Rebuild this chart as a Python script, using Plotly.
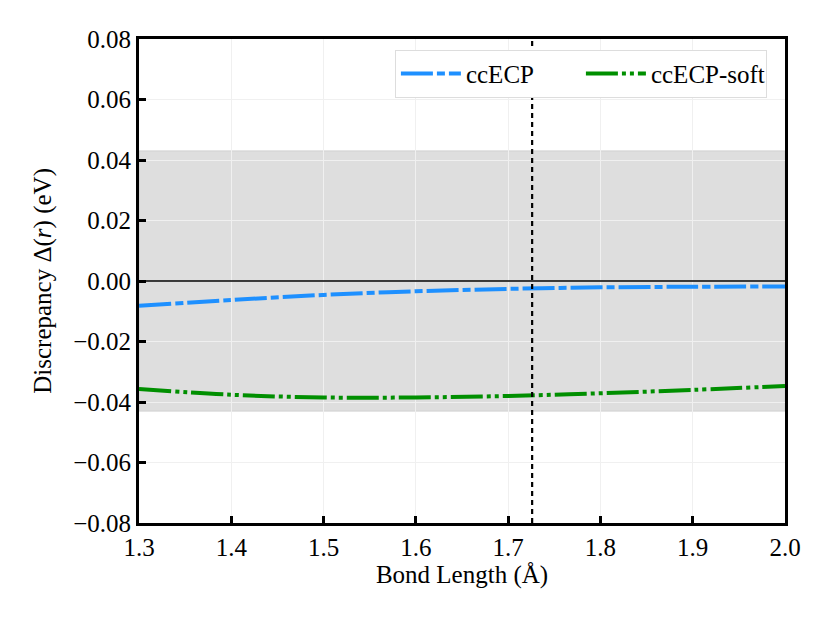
import plotly.graph_objects as go

# bond lengths (angstrom) and discrepancies (eV)
bond_length = [1.3, 1.4, 1.5, 1.6, 1.7, 1.8, 1.9, 2.0]
ccecp = [-0.0082, -0.0063, -0.0046, -0.0034, -0.0026, -0.0021, -0.0019, -0.0018]
ccecp_soft = [-0.0357, -0.0376, -0.0385, -0.0385, -0.0380, -0.0371, -0.0360, -0.0347]

eq_bond = 1.726      # vertical marker
band = 0.043         # shaded tolerance band

x_ticks = [1.3, 1.4, 1.5, 1.6, 1.7, 1.8, 1.9, 2.0]
y_ticks = [-0.08, -0.06, -0.04, -0.02, 0.0, 0.02, 0.04, 0.06, 0.08]

font = "Liberation Serif, Times New Roman, serif"
fsize = 25

fig = go.Figure()
fig.add_hrect(y0=-band, y1=band, fillcolor="#dedede",
              line=dict(color="#d0d0d0", width=1), layer="below")
fig.add_hline(y=0, line=dict(color="black", width=1.5))
fig.add_vline(x=eq_bond, line=dict(color="black", width=2.2, dash="5px,4px"))

fig.add_trace(go.Scatter(name="ccECP", x=bond_length, y=ccecp, mode="lines",
                         line=dict(color="#1e90ff", width=4, dash="32px,4px,8px,4px",
                                   shape="spline")))
fig.add_trace(go.Scatter(name="ccECP-soft", x=bond_length, y=ccecp_soft, mode="lines",
                         line=dict(color="#008f00", width=4,
                                   dash="32px,4px,4px,4px,4px,4px", shape="spline")))

axis_common = dict(showline=True, linecolor="black", linewidth=3, mirror=True,
                   ticks="inside", ticklen=7, tickwidth=2.5, tickcolor="black",
                   showgrid=True, gridcolor="#f0f0f0", gridwidth=1, zeroline=False,
                   tickfont=dict(size=fsize, color="black", family=font))

fig.update_xaxes(range=[1.3, 2.0], tickvals=x_ticks, tickformat=".1f",
                 title=dict(text="Bond Length (Å)", font=dict(size=fsize, family=font, color="black"),
                            standoff=6),
                 **axis_common)
fig.update_yaxes(range=[-0.08, 0.08], tickvals=y_ticks, tickformat=".2f", **axis_common)

# y title placed by hand: it sits closer to the tick labels than a standoff allows
fig.add_annotation(text="Discrepancy Δ(<i>r</i>) (eV)", textangle=-90,
                   xref="paper", yref="paper", x=-0.149, y=0.5,
                   xanchor="center", yanchor="middle", showarrow=False,
                   font=dict(size=fsize, family=font, color="black"))

# page body adds ~7px offset, so margins are shifted to land the plot box where the reference has it
fig.update_layout(
    width=817, height=609,
    margin=dict(l=131, r=40, t=31, b=94),
    plot_bgcolor="white", paper_bgcolor="white",
    font=dict(family=font, color="black"),
    legend=dict(orientation="h", x=0.972, y=0.978, xanchor="right", yanchor="top",
                bgcolor="white", bordercolor="#dddddd", borderwidth=1,
                font=dict(size=fsize, family=font, color="black"),
                itemwidth=60, entrywidth=110),
)

fig.write_html("out.html")
